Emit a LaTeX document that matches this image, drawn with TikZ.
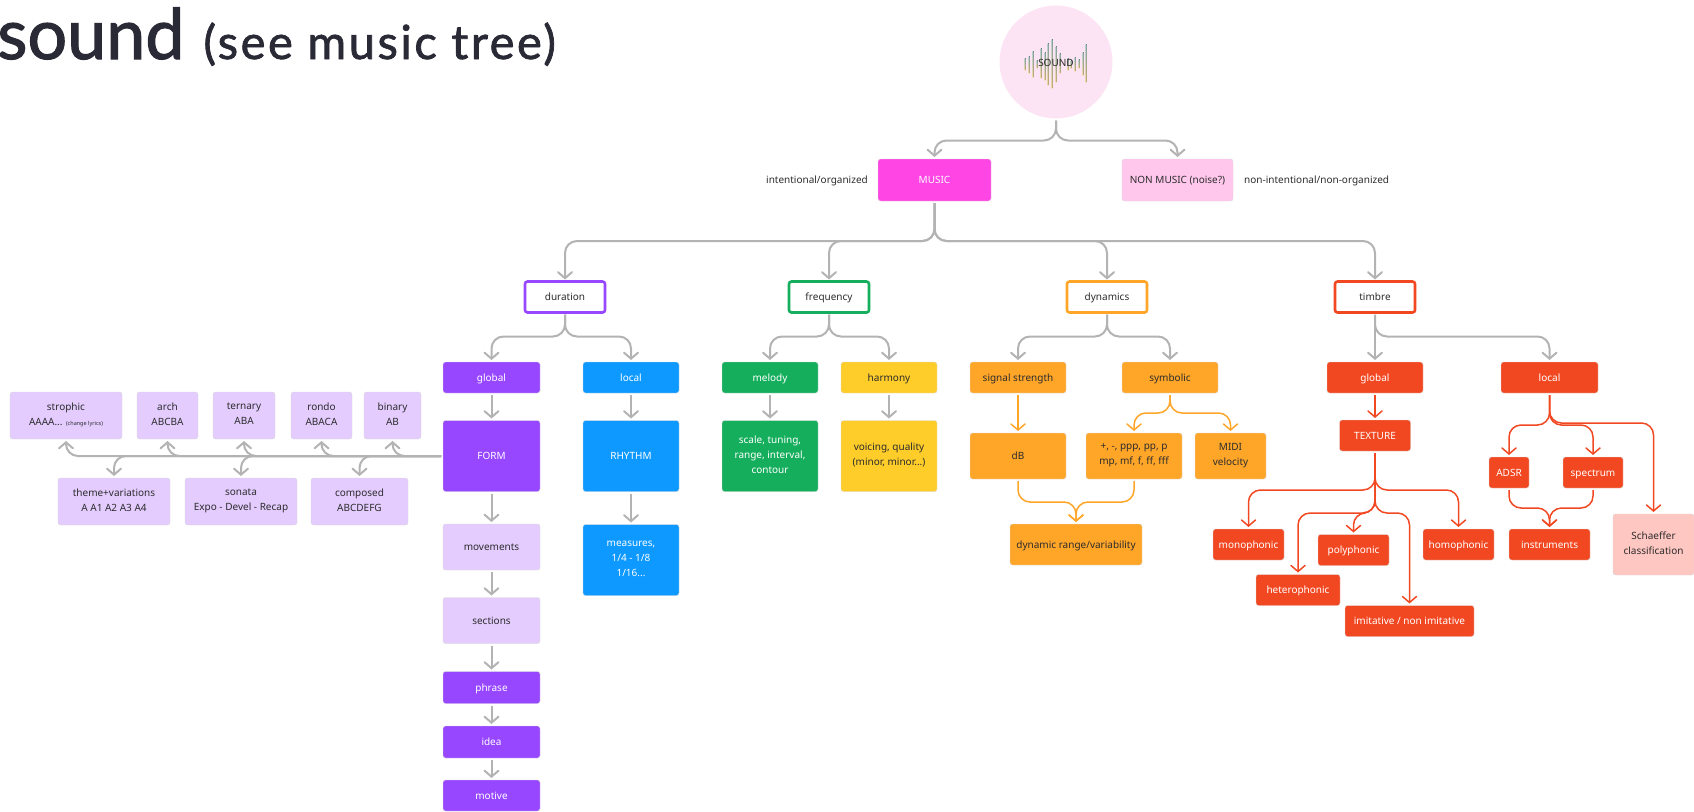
\documentclass[tikz,border=0pt]{standalone}
\usepackage{fontspec}
\setmainfont{Noto Sans}
\newfontfamily\titlefont[FakeBold=1.6]{Lato}
\newfontfamily\subfont[FakeBold=1.6,LetterSpace=5.5]{Lato}
\usetikzlibrary{arrows.meta}
\definecolor{lnk}{HTML}{B3B3B3}
\definecolor{ink}{HTML}{2C2C2C}
\definecolor{purp}{HTML}{9747FF}
\definecolor{lpurp}{HTML}{E4CCFF}
\definecolor{blu}{HTML}{0D99FF}
\definecolor{grn}{HTML}{14AE5C}
\definecolor{yel}{HTML}{FFCD29}
\definecolor{org}{HTML}{FFA629}
\definecolor{redd}{HTML}{F24822}
\definecolor{lred}{HTML}{FFC7C2}
\definecolor{mus}{HTML}{FF45E3}
\definecolor{lmus}{HTML}{FFC7EC}
\definecolor{circ}{HTML}{FDE4F4}
\definecolor{barA}{HTML}{9CC8C4}
\definecolor{barB}{HTML}{EBD28C}
\tikzset{
  txt/.style={inner sep=0pt, text=ink, font=\fontsize{10}{15}\selectfont, execute at begin node={\rule{0pt}{11pt}}, execute at end node={\rule[-3.4pt]{0pt}{3.4pt}}},
  bx/.style={txt, rectangle, rounded corners=2.5pt, draw=black!15, line width=.4pt, outer sep=2pt, align=center},
  wh/.style={bx, text=white},
  sz/.style n args={2}{minimum width=#1pt, minimum height=#2pt},
  head/.style={bx, fill=white, line width=2.6pt, sz={80}{31}},
  note/.style={txt},
  link/.style={lnk, line width=2pt, rounded corners=12pt, -{Straight Barb[length=6pt,width=14pt,line cap=round]}},
  plnk/.style={link, org, line width=1.5pt},
  rlnk/.style={link, redd, line width=1.5pt},
}
\begin{document}
\begin{tikzpicture}[x=1pt,y=-1pt]
      \useasboundingbox (0,0) rectangle (1694,811);
      \node[anchor=base west, inner sep=0pt, text=ink!95!blue] (title) at (-3,59){\titlefont\fontsize{70}{70}\selectfont sound\hspace{19pt}\subfont\fontsize{47}{47}\selectfont (see music tree)};

      % root
      \node[circle, fill=circ, minimum size=113pt, inner sep=0pt, outer sep=2pt] (sound) at (1056,62){};
      \foreach \bx/\bt/\bb in {1025/58/70,1029/56/73,1033/51/77,1037/60/68,1041/48/78,1045/52/80,1048/43/85,1052/39/88,1056/46/82,1060/53/73,1068/58/70,1071/60/68,1075/57/71,1079/59/68,1083/52/75,1086/44/82}{
        \fill[top color=barA, bottom color=barB, opacity=.75] (\bx-.5,\bt) rectangle (\bx+.5,\bb);
      }
      \node[txt] (soundlab) at (1056,63){SOUND};

      % top level
      \node[wh, fill=mus, sz={113}{42}] (music) at (934.5,180){MUSIC};
      \node[bx, fill=lmus, sz={111}{42}] (nonmusic) at (1177.5,180){NON MUSIC (noise?)};
      \node[note, anchor=east] (musnote) at (868,180){intentional/organized};
      \node[note, anchor=west] (nonnote) at (1244,180){non-intentional/non-organized};
      \draw[link](sound.south) -- ++(0,20) -| (music.north);
      \draw[link](sound.south) -- ++(0,20) -| (nonmusic.north);

      % parameters
      \node[head, draw=purp] (dur) at (565,297){duration};
      \node[head, draw=grn] (frq) at (829,297){frequency};
      \node[head, draw=org] (dyn) at (1107,297){dynamics};
      \node[head, draw=redd] (tim) at (1375,297){timbre};
      \draw[link](music.south) -- ++(0,38) -| (dur.north);
      \draw[link](music.south) -- ++(0,38) -| (frq.north);
      \draw[link](music.south) -- ++(0,38) -| (dyn.north);
      \draw[link](music.south) -- ++(0,38) -| (tim.north);

      % duration
      \node[wh, fill=purp, sz={97}{31}] (glo) at (491.5,377.5){global};
      \node[wh, fill=blu, sz={96}{31}] (loc) at (631,377.5){local};
      \node[wh, fill=purp, sz={97}{71}] (form) at (491.5,456){FORM};
      \node[wh, fill=blu, sz={96}{71}] (rhy) at (631,456){RHYTHM};
      \node[bx, fill=lpurp, sz={97}{46}] (mov) at (491.5,547){movements};
      \node[bx, fill=lpurp, sz={97}{46}] (sec) at (491.5,620.5){sections};
      \node[wh, fill=purp, sz={97}{32}] (phr) at (491.5,687.5){phrase};
      \node[wh, fill=purp, sz={97}{32}] (ide) at (491.5,742){idea};
      \node[wh, fill=purp, sz={97}{31}] (mot) at (491.5,795.5){motive};
      \node[wh, fill=blu, sz={96}{71}] (mea) at (631,560){measures,\\1/4 - 1/8\\1/16...};
      \draw[link](dur.south) -- ++(0,22) -| (glo.north);
      \draw[link](dur.south) -- ++(0,22) -| (loc.north);
      \draw[link](glo) -- (form);
      \draw[link](form) -- (mov);
      \draw[link](mov) -- (sec);
      \draw[link](sec) -- (phr);
      \draw[link](phr) -- (ide);
      \draw[link](ide) -- (mot);
      \draw[link](loc) -- (rhy);
      \draw[link](rhy) -- (mea);

      % forms
      \node[bx, fill=lpurp, sz={112}{47}] (str) at (66,415.5){strophic\\AAAA... {\fontsize{5.5}{15}\selectfont(change lyrics)}};
      \node[bx, fill=lpurp, sz={61}{47}] (arc) at (167.5,415.5){arch\\ABCBA};
      \node[bx, fill=lpurp, sz={62}{47}] (ter) at (244,415.5){ternary\\ABA};
      \node[bx, fill=lpurp, sz={61}{47}] (ron) at (321.5,415.5){rondo\\ABACA};
      \node[bx, fill=lpurp, sz={57}{47}] (bin) at (392.5,415.5){binary\\AB};
      \node[bx, fill=lpurp, sz={112}{47}] (the) at (114,501.5){theme+variations\\A A1 A2 A3 A4};
      \node[bx, fill=lpurp, sz={112}{47}] (son) at (241,501.5){sonata\\Expo - Devel - Recap};
      \node[bx, fill=lpurp, sz={97}{47}] (com) at (359.5,501.5){composed\\ABCDEFG};
      \foreach \nd in {str,arc,ter,ron,bin}{
        \draw[link](form.west) -| (\nd.south);
      }
      \foreach \nd in {the,son,com}{
        \draw[link](form.west) -| (\nd.north);
      }

      % frequency
      \node[wh, fill=grn, sz={96}{31}] (mel) at (770,377.5){melody};
      \node[bx, fill=yel, sz={96}{31}] (har) at (889,377.5){harmony};
      \node[wh, fill=grn, sz={96}{71}] (sca) at (770,456){scale, tuning,\\range, interval,\\contour};
      \node[bx, fill=yel, sz={96}{71}] (voi) at (889,456){voicing, quality\\(minor, minor...)};
      \draw[link](frq.south) -- ++(0,22) -| (mel.north);
      \draw[link](frq.south) -- ++(0,22) -| (har.north);
      \draw[link](mel) -- (sca);
      \draw[link](har) -- (voi);

      % dynamics
      \node[bx, fill=org, sz={96}{31}] (sig) at (1018,377.5){signal strength};
      \node[bx, fill=org, sz={96}{31}] (sym) at (1170,377.5){symbolic};
      \node[bx, fill=org, sz={96}{46}] (db) at (1018,456){dB};
      \node[bx, fill=org, sz={96}{46}] (ppp) at (1134,456){+, -, ppp, pp, p\\mp, mf, f, ff, fff};
      \node[bx, fill=org, sz={71}{46}] (mid) at (1230.5,456){MIDI\\velocity};
      \node[bx, fill=org, sz={132}{41}] (ran) at (1076,544.5){dynamic range/variability};
      \draw[link](dyn.south) -- ++(0,22) -| (sig.north);
      \draw[link](dyn.south) -- ++(0,22) -| (sym.north);
      \draw[plnk](sig) -- (db);
      \draw[plnk](sym.south) -- ++(0,18) -| (ppp.north);
      \draw[plnk](sym.south) -- ++(0,18) -| (mid.north);
      \draw[plnk](db.south) -- ++(0,21) -| (ran.north);
      \draw[plnk](ppp.south) -- ++(0,21) -| (ran.north);

      % timbre
      \node[wh, fill=redd, sz={96}{31}] (tgl) at (1375,377.5){global};
      \node[wh, fill=redd, sz={97}{31}] (tlo) at (1549.5,377.5){local};
      \node[wh, fill=redd, sz={71}{31}] (tex) at (1375,435.5){TEXTURE};
      \node[wh, fill=redd, sz={71}{31}] (mon) at (1248.5,544.5){monophonic};
      \node[wh, fill=redd, sz={71}{31}] (pol) at (1353.5,550){polyphonic};
      \node[wh, fill=redd, sz={71}{31}] (hom) at (1458.5,544.5){homophonic};
      \node[wh, fill=redd, sz={84}{31}] (het) at (1298,590){heterophonic};
      \node[wh, fill=redd, sz={129}{31}] (imi) at (1409.5,621){imitative / non imitative};
      \node[wh, fill=redd, sz={40}{31}] (ads) at (1509,472.5){ADSR};
      \node[wh, fill=redd, sz={60}{31}] (spe) at (1593,472.5){spectrum};
      \node[wh, fill=redd, sz={81}{31}] (ins) at (1549.5,544.5){instruments};
      \node[bx, fill=lred, sz={81}{61}] (sch) at (1653.5,544.5){Schaeffer\\classification};
      \draw[link](tim.south) -- ++(0,22) -| (tgl.north);
      \draw[link](tim.south) -- ++(0,22) -| (tlo.north);
      \draw[rlnk](tgl) -- (tex);
      \draw[rlnk](tex.south) -- ++(0,37) -| (mon.north);
      \draw[rlnk](tex.south) -- ++(0,37) -| (hom.north);
      \draw[rlnk](tex.south) -- ++(0,60) -| (het.north);
      \draw[rlnk](tex.south) -- ++(0,60) -| (pol.north);
      \draw[rlnk](tex.south) -- ++(0,60) -| (imi.north);
      \draw[rlnk](tlo.south) -- ++(0,30) -| (ads.north);
      \draw[rlnk](tlo.south) -- ++(0,30) -| (spe.north);
      \draw[rlnk](tlo.south) -- ++(0,28) -| (sch.north);
      \draw[rlnk](ads.south) -- ++(0,18) -| (ins.north);
      \draw[rlnk](spe.south) -- ++(0,18) -| (ins.north);

\end{tikzpicture}
\end{document}
